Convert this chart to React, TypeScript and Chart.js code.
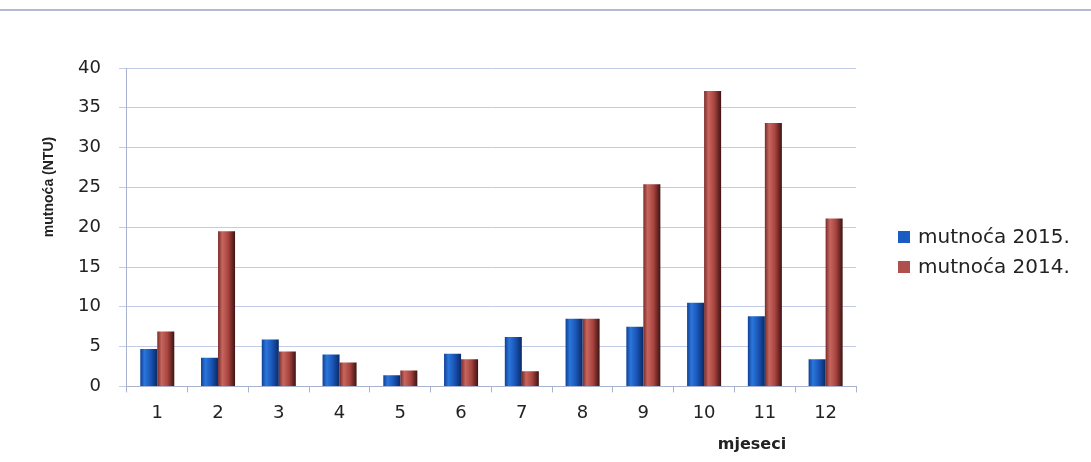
import React, { useEffect, useRef } from "react";
import { Chart, registerables } from "chart.js";

Chart.register(...registerables);

const months = ["1", "2", "3", "4", "5", "6", "7", "8", "9", "10", "11", "12"];
const turbidity2015 = [4.7, 3.6, 5.9, 4.0, 1.4, 4.1, 6.2, 8.5, 7.5, 10.5, 8.8, 3.4];
const turbidity2014 = [6.9, 19.5, 4.4, 3.0, 2.0, 3.4, 1.9, 8.5, 25.4, 37.1, 33.1, 21.1];
const seriesLabels = ["mutnoća 2015.", "mutnoća 2014."];
const yAxisTitle = "mutnoća (NTU)";
const xAxisTitle = "mjeseci";
const yMax = 40;
const yStep = 5;

const CAT_PCT = 0.56;
const BLUE = ["#0f3f96", "#2b76da", "#1a56b8", "#0a2a66"];
const RED = ["#7a2a28", "#c6665f", "#a9443f", "#3d1312"];
const LEGEND_BLUE = "#1a5cc0";
const LEGEND_RED = "#b0504c";

function barFill(stops: string[]) {
  return (ctx: any) => {
    const chart = ctx.chart;
    const xs = chart.scales && chart.scales.x;
    if (!xs || ctx.type !== "data" || !xs.width) return stops[2];
    const center = xs.getPixelForValue(ctx.dataIndex);
    const catW = xs.width / months.length;
    const barW = (catW * CAT_PCT) / 2;
    const left = center + (ctx.datasetIndex - 1) * barW;
    if (!isFinite(left) || !isFinite(barW) || barW <= 0) return stops[2];
    const g = chart.ctx.createLinearGradient(left, 0, left + barW, 0);
    g.addColorStop(0, stops[0]);
    g.addColorStop(0.25, stops[1]);
    g.addColorStop(0.6, stops[2]);
    g.addColorStop(1, stops[3]);
    return g;
  };
}

const decorPlugin = {
  id: "decor",
  afterDraw(chart: any) {
    const { ctx, chartArea } = chart;
    // y-axis title
    ctx.save();
    ctx.fillStyle = "#222";
    ctx.font = "bold 14px 'Liberation Sans', Arial, sans-serif";
    ctx.textAlign = "center";
    ctx.textBaseline = "middle";
    ctx.translate(chartArea.left - 78, chartArea.top + 119);
    ctx.rotate(-Math.PI / 2);
    ctx.fillText(yAxisTitle, 0, 0);
    ctx.restore();
    // x-axis title
    ctx.save();
    ctx.fillStyle = "#222";
    ctx.font = "bold 16px 'DejaVu Sans', sans-serif";
    ctx.textAlign = "center";
    ctx.textBaseline = "middle";
    ctx.fillText(xAxisTitle, chartArea.right - 104, chartArea.bottom + 58);
    ctx.restore();
    // legend
    const colors = [LEGEND_BLUE, LEGEND_RED];
    ctx.save();
    ctx.font = "20px 'DejaVu Sans', sans-serif";
    ctx.textBaseline = "middle";
    ctx.textAlign = "left";
    seriesLabels.forEach((label, i) => {
      const y = chartArea.top + 169 + i * 30;
      const x = chartArea.right + 42;
      ctx.fillStyle = colors[i];
      ctx.fillRect(x, y - 6, 12, 12);
      ctx.fillStyle = "#222";
      ctx.fillText(label, x + 20, y + 1);
    });
    ctx.restore();
  },
};

export default function App() {
  const ref = useRef<HTMLCanvasElement>(null);
  useEffect(() => {
    document.body.style.margin = "0";
    const chart = new Chart(ref.current as HTMLCanvasElement, {
      type: "bar",
      data: {
        labels: months,
        datasets: [
          {
            label: seriesLabels[0],
            data: turbidity2015,
            backgroundColor: barFill(BLUE),
            categoryPercentage: CAT_PCT,
            barPercentage: 1,
          },
          {
            label: seriesLabels[1],
            data: turbidity2014,
            backgroundColor: barFill(RED),
            categoryPercentage: CAT_PCT,
            barPercentage: 1,
          },
        ],
      },
      options: {
        animation: false,
        responsive: false,
        layout: { padding: { left: 60, top: 68, bottom: 28, right: 235 } },
        plugins: {
          tooltip: { enabled: false },
          legend: { display: false },
        },
        scales: {
          x: {
            grid: {
              display: true,
              drawOnChartArea: false,
              drawTicks: true,
              tickLength: 6,
              color: "#a9b3cf",
            },
            border: { display: true, color: "#a9b3cf" },
            ticks: {
              color: "#222",
              padding: 10,
              font: { family: "'DejaVu Sans', sans-serif", size: 18 },
            },
          },
          y: {
            min: 0,
            max: yMax,
            ticks: {
              stepSize: yStep,
              color: "#222",
              padding: 18,
              font: { family: "'DejaVu Sans', sans-serif", size: 18 },
            },
            grid: { color: "#c3cbe6", tickLength: 8 },
            border: { display: true, color: "#a9b3cf" },
          },
        },
      },
      plugins: [decorPlugin],
    } as any);
    return () => chart.destroy();
  }, []);
  return (
    <div style={{ position: "relative", width: 1091, height: 462, background: "#fff" }}>
      <div style={{ position: "absolute", left: 0, right: 0, top: 9, borderTop: "2px solid #b3b8d6" }} />
      <canvas ref={ref} width={1091} height={462} style={{ position: "absolute", left: 0, top: 0 }} />
    </div>
  );
}
